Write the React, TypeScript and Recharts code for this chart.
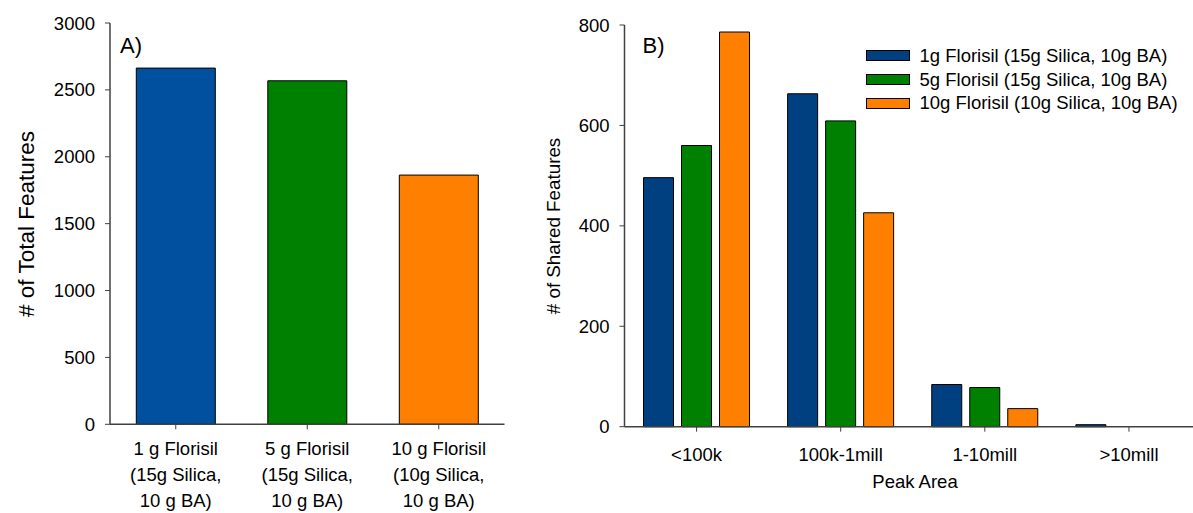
import React from 'react';
import { BarChart, Bar, XAxis, YAxis, Legend, Label } from 'recharts';

// ---- Panel A data ----
const totalCategories = ['1 g Florisil\n(15g Silica,\n10 g BA)', '5 g Florisil\n(15g Silica,\n10 g BA)', '10 g Florisil\n(10g Silica,\n10 g BA)'];
const totalFeatures = [2663, 2568, 1863];
const totalColors = ['#0050A0', '#008000', '#FF8000'];
const totalTicks = [0, 500, 1000, 1500, 2000, 2500, 3000];

// ---- Panel B data ----
const peakCategories = ['<100k', '100k-1mill', '1-10mill', '>10mill'];
const seriesNames = ['1g Florisil (15g Silica, 10g BA)', '5g Florisil (15g Silica, 10g BA)', '10g Florisil (10g Silica, 10g BA)'];
const series1g = [496, 663, 84, 4];
const series5g = [560, 609, 78, 0];
const series10g = [786, 426, 36, 0];
const seriesColors = ['#003F80', '#008000', '#FF8000'];
const sharedTicks = [0, 200, 400, 600, 800];

const FONT = '"Liberation Sans", Arial, Helvetica, sans-serif';
const AXIS = '#404040';

const dataA = totalCategories.map((c, i) => ({ name: c, value: totalFeatures[i], fill: totalColors[i] }));
const dataB = peakCategories.map((c, i) => ({ name: c, s1: series1g[i], s2: series5g[i], s3: series10g[i] }));

const MultiLineTick = (props: any) => {
  const { x, y, payload } = props;
  const lines = String(payload.value).split('\n');
  return (
    <text x={x} y={y} textAnchor="middle" fill="#000" fontSize={18.5} fontFamily={FONT}>
      {lines.map((l, i) => (
        <tspan key={i} x={x} dy={i === 0 ? '0.71em' : 26}>{l}</tspan>
      ))}
    </text>
  );
};

const LegendContent = (props: any) => {
  const payload: any[] = props.payload || [];
  const items = seriesNames.map((n, i) => {
    const p = payload.find((q) => q.value === n);
    return { value: n, color: (p && p.color) || seriesColors[i] };
  });
  return (
    <div style={{ fontFamily: FONT, fontSize: 18.5, color: '#000' }}>
      {items.map((p, i) => (
        <div key={i} style={{ display: 'flex', alignItems: 'center', height: 23.7, lineHeight: '23.7px', whiteSpace: 'nowrap' }}>
          <span style={{ display: 'inline-block', boxSizing: 'border-box', width: 44, height: 11, background: p.color, border: '1px solid #000', marginRight: 10 }} />
          <span>{p.value}</span>
        </div>
      ))}
    </div>
  );
};

export default function App() {
  const tickStyle = { fill: '#000', fontSize: 18.5, fontFamily: FONT };
  return (
    <div style={{ position: 'absolute', left: 0, top: 0, width: 1193, height: 513, overflow: 'hidden', background: '#fff' }}>
      <div style={{ position: 'absolute', left: 0, top: 0 }}>
        <BarChart width={520} height={513} data={dataA} margin={{ top: 23, right: 15.5, bottom: 0, left: 0 }} barCategoryGap="20%">
          <XAxis dataKey="name" height={88.7} tick={<MultiLineTick />} tickSize={5} tickMargin={12.7}
            axisLine={{ stroke: AXIS, strokeWidth: 1.5 }} tickLine={{ stroke: AXIS }} interval={0} />
          <XAxis xAxisId="top" orientation="top" dataKey="name" height={0} tick={false} tickLine={false}
            axisLine={{ stroke: AXIS, strokeWidth: 1.5 }} />
          <YAxis width={110} domain={[0, 3000]} ticks={totalTicks} tick={tickStyle} tickSize={5} tickMargin={10}
            axisLine={{ stroke: AXIS, strokeWidth: 1.5 }} tickLine={{ stroke: AXIS }} interval={0}>
            <Label content={() => (
              <text x={26} y={224} transform="rotate(-90 26 224)" textAnchor="middle" dominantBaseline="central"
                fontSize={22.5} fontFamily={FONT} fill="#000">
                # of Total Features
              </text>
            )} />
          </YAxis>
          <YAxis yAxisId="right" orientation="right" width={0} tick={false} tickLine={false}
            axisLine={{ stroke: AXIS, strokeWidth: 1.5 }} domain={[0, 3000]} />
          <Bar dataKey="value" isAnimationActive={false} stroke="#000" strokeWidth={1}>
            <Label content={() => (
              <text x={120} y={52.5} fontSize={22} fontFamily={FONT} fill="#000">A)</text>
            )} />
          </Bar>
        </BarChart>
      </div>
      <div style={{ position: 'absolute', left: 520, top: 0 }}>
        <BarChart width={700} height={513} data={dataB} margin={{ top: 25, right: 19, bottom: 0, left: 0 }} barSize={30} barGap={8}>
          <XAxis dataKey="name" height={86.3} tick={tickStyle} tickSize={5} tickMargin={16}
            axisLine={{ stroke: AXIS, strokeWidth: 1.5 }} tickLine={{ stroke: AXIS }} interval={0}>
            <Label content={() => (
              <text x={395} y={475} dy="0.71em" textAnchor="middle" fontSize={18.5} fontFamily={FONT} fill="#000">Peak Area</text>
            )} />
          </XAxis>
          <XAxis xAxisId="top" orientation="top" dataKey="name" height={0} tick={false} tickLine={false}
            axisLine={{ stroke: AXIS, strokeWidth: 1.5 }} />
          <YAxis width={104.5} domain={[0, 800]} ticks={sharedTicks} tick={tickStyle} tickSize={5} tickMargin={10}
            axisLine={{ stroke: AXIS, strokeWidth: 1.5 }} tickLine={{ stroke: AXIS }} interval={0}>
            <Label content={() => (
              <text x={33} y={226} transform="rotate(-90 33 226)" textAnchor="middle" dominantBaseline="central"
                fontSize={18.8} fontFamily={FONT} fill="#000">
                # of Shared Features
              </text>
            )} />
          </YAxis>
          <Legend layout="horizontal" verticalAlign="middle" align="center" content={<LegendContent />}
            wrapperStyle={{ position: 'absolute', left: 345.5, top: 44, width: 'auto', height: 'auto' }} />
          <Bar dataKey="s1" name={seriesNames[0]} fill={seriesColors[0]} stroke="#000" strokeWidth={1} isAnimationActive={false}>
            <Label content={() => (
              <text x={122.5} y={52.5} fontSize={22} fontFamily={FONT} fill="#000">B)</text>
            )} />
          </Bar>
          <Bar dataKey="s2" name={seriesNames[1]} fill={seriesColors[1]} stroke="#000" strokeWidth={1} isAnimationActive={false} />
          <Bar dataKey="s3" name={seriesNames[2]} fill={seriesColors[2]} stroke="#000" strokeWidth={1} isAnimationActive={false} />
        </BarChart>
      </div>
    </div>
  );
}
